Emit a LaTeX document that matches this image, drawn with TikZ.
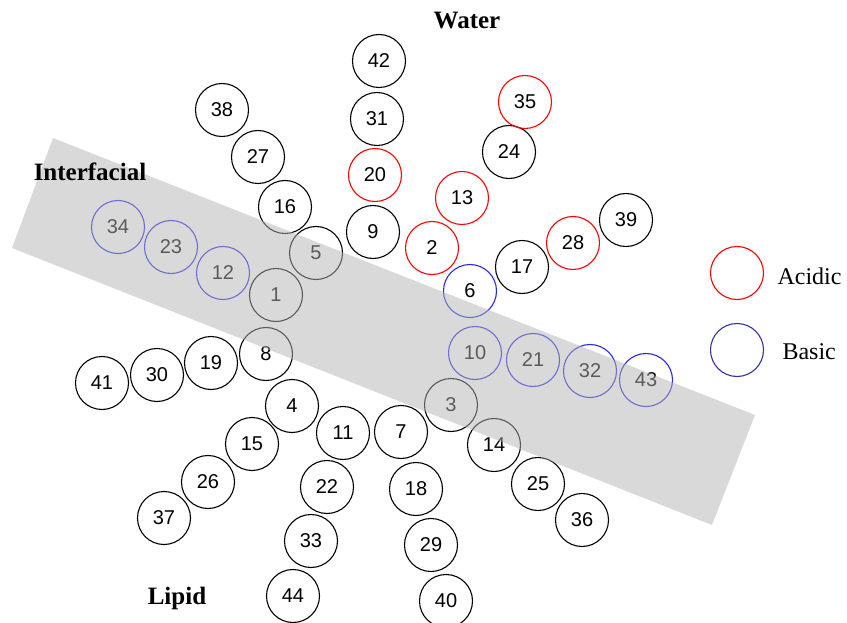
\documentclass[tikz,border=0pt]{standalone}
\usepackage{fontspec}
\setmainfont{Liberation Serif}
\setsansfont{Liberation Sans}
\begin{document}
\begin{tikzpicture}[x=1pt,y=-1pt,
  ball/.style={circle,draw=black,line width=1.1pt,minimum size=53pt,inner sep=0pt,font=\sffamily\fontsize{20}{20}\selectfont},
  acid/.style={ball,draw=red},
  base/.style={ball,draw={rgb,255:red,40;green,40;blue,235}},
  lbl/.style={font=\bfseries\fontsize{25}{25}\selectfont},
  legtxt/.style={font=\fontsize{24}{24}\selectfont,anchor=west}]
\useasboundingbox (0,0) rectangle (847,623);
% neutral
\foreach \n/\x/\y in {42/379/61,31/377/119,9/373/232,38/222/110,27/258/157,16/285/207,5/316/253,1/276/295,
  8/266/354,19/211/363,30/157/375,41/102/383,4/292/406,15/252/444,26/208/482,37/164/518,
  11/343/433,22/327/487,33/311/541,44/293/596,7/401/432,18/416/489,29/431/545,40/446/601,
  3/451/405,14/494/445,25/538/484,36/582/520,17/522/267,39/626/220,24/509/152}
  \node[ball] (n\n) at (\x,\y) {\n};
% acidic
\foreach \n/\x/\y in {20/375/175,2/432/248,13/462/198,28/573/243,35/525/102}
  \node[acid] (n\n) at (\x,\y) {\n};
% basic
\foreach \n/\x/\y in {34/118/227,23/171/247,12/223/273,6/470/291,10/475/353,21/533/360,32/590/371,43/646/380}
  \node[base] (n\n) at (\x,\y) {\n};
% interfacial band
\fill[fill={rgb,255:red,180;green,180;blue,180},fill opacity=0.5] (53,138) -- (755,415) -- (712,525) -- (12,248) -- cycle;
% labels
\node[lbl] (water) at (467,21) {Water};
\node[lbl] (inter) at (90,172) {Interfacial};
\node[lbl] (lipid) at (177,598) {Lipid};
% legend
\node[ball,draw=red] (legA) at (737,273) {};
\node[ball,draw={rgb,255:red,50;green,50;blue,160}] (legB) at (737,350) {};
\node[legtxt] (tA) at (774,276) {Acidic};
\node[legtxt] (tB) at (779,352) {Basic};
\end{tikzpicture}
\end{document}
